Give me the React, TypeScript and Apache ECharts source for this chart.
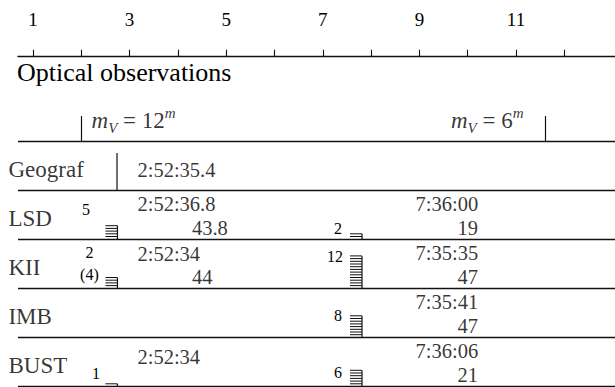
import React, { useEffect, useRef } from "react";
import * as echarts from "echarts";

// Upper ruler
const scaleTicks = [1, 2, 3, 4, 5, 6, 7, 8, 9, 10, 11, 12];
const scaleLabels = [1, 3, 5, 7, 9, 11];

// Magnitude bar marks (m_V)
const magnitudeMarks = [12, 6];

// Station table
const stations = ["Geograf", "LSD", "KII", "IMB", "BUST"];
const firstTimes = ["2:52:35.4", "2:52:36.8", "2:52:34", "", "2:52:34"];
const firstEnds = ["", "43.8", "44", "", ""];
const secondTimes = ["", "7:36:00", "7:35:35", "7:35:41", "7:36:06"];
const secondEnds = ["", "19", "47", "47", "21"];
const firstCounts = [0, 5, 4, 0, 1];
const firstCountLabels = ["", "5", "2\n(4)", "", "1"];
const secondCounts = [0, 2, 12, 8, 6];
const secondCountLabels = ["", "2", "12", "8", "6"];
const geografMark = 2.74;

// Layout (ruler units for columns, pixels for in-row offsets)
const COL = { name: 0.482, t1: 3.153, e1: 4.282, t2: 8.909, e2: 9.778, g1: 2.749, g2: 7.812 };
const ROW_PX = 49.1;
const FONT = "'Liberation Serif', 'Times New Roman', serif";
const INK = "#111";
// vertical offset (px below row top) of the first time line, per row
const firstTimeDrop = [29, 13.5, 14.5, 13.5, 20];

// count label shifts: [dx from glyph right edge, dy from glyph top, align]
const countShift: Record<string, [number, number, string]> = {
  "1-0": [-27.5, -16.5, "right"],
  "2-0": [-28, -13.7, "center"],
  "4-0": [-17.5, -10.8, "right"],
  "1-1": [-20, -5.6, "right"],
  "2-1": [-19, 1, "right"],
  "3-1": [-20, 0, "right"],
  "4-1": [-20, 1.7, "right"],
};

function textItem(x: number, y: number, text: string, fontSize: number) {
  return {
    value: [x, y],
    label: {
      show: true,
      formatter: text,
      position: "right",
      distance: 0,
      fontSize,
      fontFamily: FONT,
      color: "#000",
    },
  };
}

export default function App() {
  const ref = useRef<HTMLDivElement>(null);

  useEffect(() => {
    if (!ref.current) return;
    const chart = echarts.init(ref.current, undefined, { renderer: "svg" });

    const texts: any[] = [];
    stations.forEach((name, i) => {
      const top = 5 - i;
      texts.push(textItem(COL.name, top - 28.5 / ROW_PX, name, 23));
      if (firstTimes[i]) texts.push(textItem(COL.t1, top - firstTimeDrop[i] / ROW_PX, firstTimes[i], 20.5));
      if (firstEnds[i]) texts.push(textItem(COL.e1, top - 37.5 / ROW_PX, firstEnds[i], 20.5));
      if (secondTimes[i]) texts.push(textItem(COL.t2, top - 13.5 / ROW_PX, secondTimes[i], 20.5));
      if (secondEnds[i]) texts.push(textItem(COL.e2, top - 37.5 / ROW_PX, secondEnds[i], 20.5));
    });

    const glyphs: any[] = [];
    stations.forEach((_, i) => {
      if (firstCounts[i]) glyphs.push([COL.g1, 4 - i, firstCounts[i], i, 0]);
      if (secondCounts[i]) glyphs.push([COL.g2, 4 - i, secondCounts[i], i, 1]);
    });

    const option: any = {
      animation: false,
      graphic: [
        {
          type: "text",
          style: {
            x: 17,
            y: 72,
            text: "Optical observations",
            font: `26px ${FONT}`,
            fill: "#000",
            verticalAlign: "middle",
          },
        },
      ],
      grid: [
        { left: 18, width: 597, top: 46.7, height: 10 },
        { left: 18, width: 597, top: 141, height: 245.5 },
      ],
      xAxis: [
        {
          gridIndex: 0,
          type: "value",
          position: "top",
          min: 0.69,
          max: 13.05,
          axisLine: { show: true, lineStyle: { color: INK, width: 1.3 } },
          axisTick: { show: true, customValues: scaleTicks, length: 7, lineStyle: { color: INK, width: 1.1 } },
          axisLabel: { show: true, customValues: scaleLabels, margin: 18, fontSize: 19, fontFamily: FONT, color: "#000" },
          splitLine: { show: false },
        },
        { gridIndex: 1, type: "value", min: 0.69, max: 13.05, show: false },
        {
          gridIndex: 1,
          type: "value",
          position: "top",
          inverse: true,
          min: 5.095,
          max: 12.815,
          axisLine: { show: false },
          axisTick: { show: true, customValues: magnitudeMarks, length: 25, lineStyle: { color: INK, width: 1.2 } },
          axisLabel: { show: false },
          splitLine: { show: false },
        },
      ],
      yAxis: [
        { gridIndex: 0, type: "value", min: 0, max: 1, show: false },
        {
          gridIndex: 1,
          type: "value",
          min: 0,
          max: 5,
          interval: 1,
          axisLine: { show: false },
          axisTick: { show: false },
          axisLabel: { show: false },
          splitLine: { show: true, lineStyle: { color: INK, width: 1.3 } },
        },
      ],
      series: [
        {
          type: "line",
          xAxisIndex: 1,
          yAxisIndex: 1,
          data: [
            [geografMark, 4],
            [geografMark, 4 + 37 / ROW_PX],
          ],
          symbol: "none",
          lineStyle: { color: INK, width: 1.2 },
          silent: true,
        },
        {
          type: "scatter",
          xAxisIndex: 1,
          yAxisIndex: 1,
          symbolSize: 1,
          itemStyle: { color: "rgba(0,0,0,0)" },
          clip: false,
          silent: true,
          data: texts,
        },
        {
          type: "scatter",
          xAxisIndex: 2,
          yAxisIndex: 1,
          symbolSize: 1,
          itemStyle: { color: "rgba(0,0,0,0)" },
          clip: false,
          silent: true,
          data: magnitudeMarks.map((m, k) => ({
            value: [m, 5 + 21 / ROW_PX],
            label: {
              show: true,
              position: k === 0 ? "right" : "left",
              distance: k === 0 ? 10 : 21,
              formatter: `{it|m}{sub|V}{n| = ${m}}{sup|m}`,
              rich: {
                it: { fontFamily: FONT, fontStyle: "italic", fontSize: 23, lineHeight: 30, color: "#000", verticalAlign: "middle" },
                sub: { fontFamily: FONT, fontStyle: "italic", fontSize: 15, lineHeight: 15, color: "#000", verticalAlign: "bottom" },
                n: { fontFamily: FONT, fontSize: 23, lineHeight: 30, color: "#000", verticalAlign: "middle" },
                sup: { fontFamily: FONT, fontStyle: "italic", fontSize: 15, lineHeight: 15, color: "#000", verticalAlign: "top" },
              },
            },
          })),
        },
        {
          type: "custom",
          xAxisIndex: 1,
          yAxisIndex: 1,
          silent: true,
          data: glyphs,
          renderItem: (params: any, api: any) => {
            const n = api.value(2);
            const row = api.value(3);
            const side = api.value(4);
            const [px, py] = api.coord([api.value(0), api.value(1)]);
            const step = 2.7;
            const w = 12;
            const topY = py - n * step;
            const children: any[] = [];
            for (let k = 1; k <= n; k++) {
              children.push({
                type: "line",
                shape: { x1: px - w, y1: py - k * step, x2: px, y2: py - k * step },
                style: { stroke: INK, lineWidth: 1 },
              });
            }
            children.push({
              type: "line",
              shape: { x1: px, y1: topY, x2: px, y2: py },
              style: { stroke: INK, lineWidth: 1.2 },
            });
            const labels = side === 0 ? firstCountLabels : secondCountLabels;
            const sh = countShift[`${row}-${side}`];
            if (labels[row] && sh) {
              children.push({
                type: "text",
                style: {
                  text: labels[row],
                  x: px + sh[0],
                  y: topY + sh[1],
                  align: sh[2],
                  verticalAlign: "middle",
                  font: `16px ${FONT}`,
                  lineHeight: 22,
                  fill: "#000",
                },
              });
            }
            return { type: "group", children };
          },
        },
      ],
    };

    chart.setOption(option);
    return () => chart.dispose();
  }, []);

  return (
    <div
      ref={ref}
      style={{ position: "absolute", left: 0, top: 0, width: 615, height: 387, background: "#fff" }}
    />
  );
}
